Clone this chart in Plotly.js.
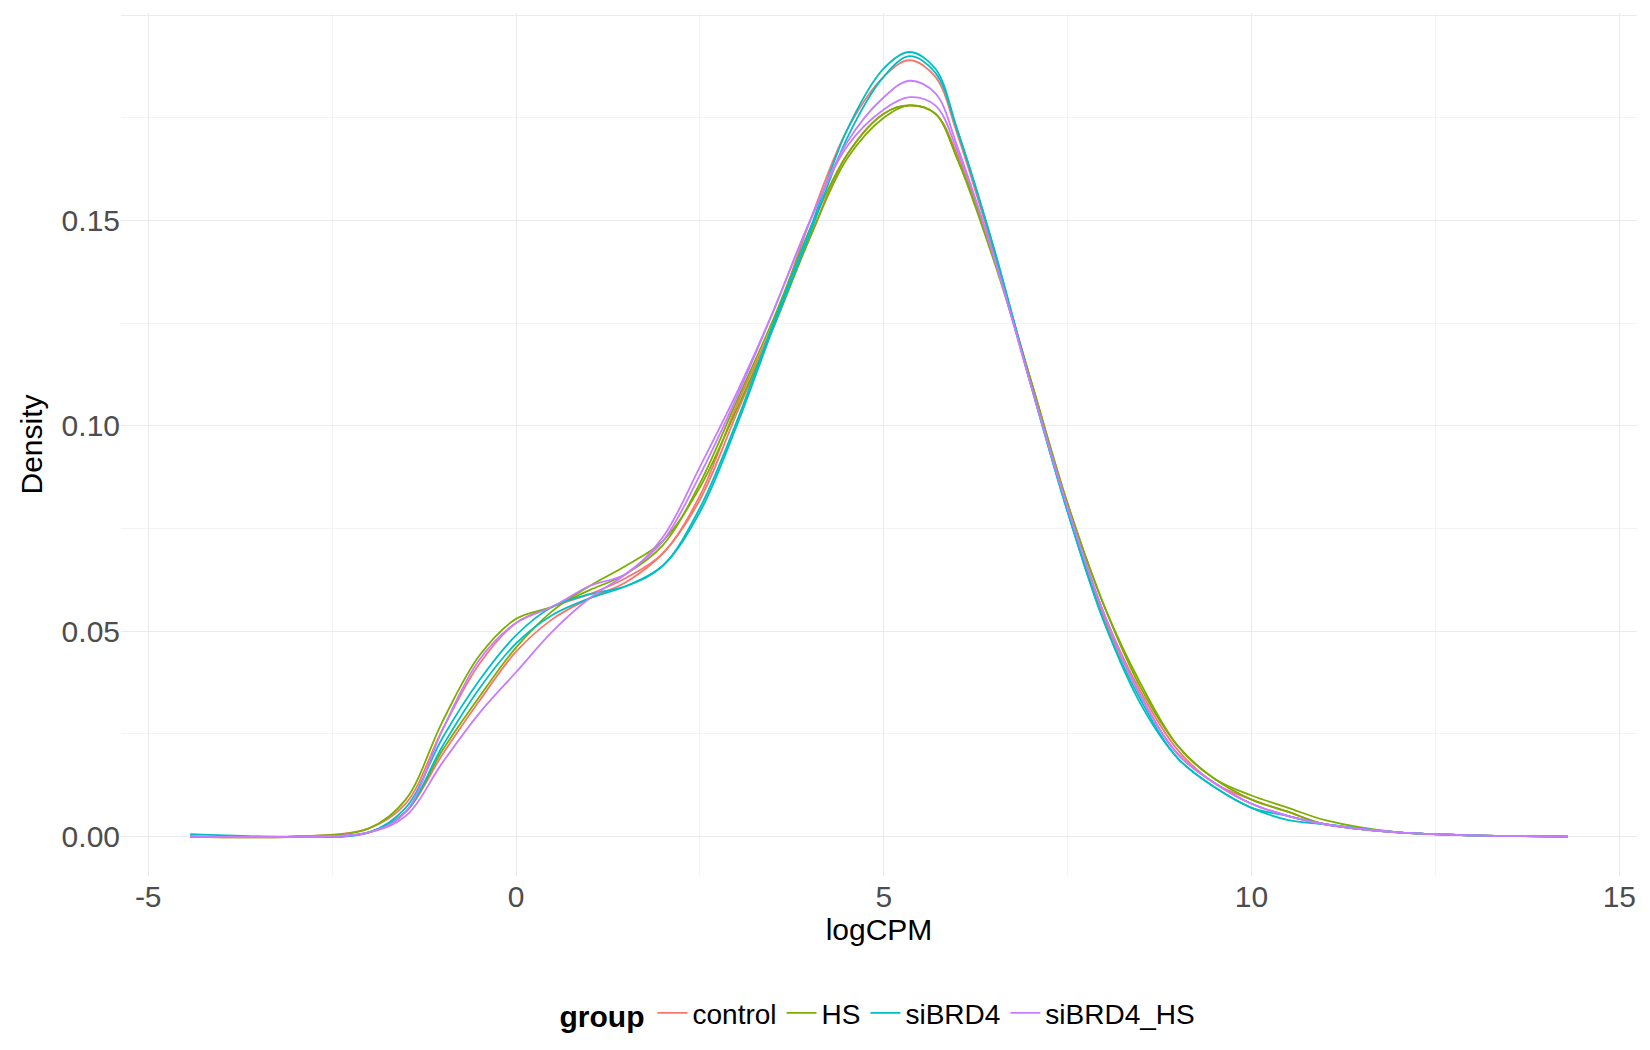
<!DOCTYPE html>
<html>
<head>
<meta charset="utf-8">
<script src="https://cdn.plot.ly/plotly-3.0.1.min.js"></script>
<style>body{margin:0;background:#fff}#chart{width:1650px;height:1050px}</style>
</head>
<body>
<div id="chart"></div>
<script>
// density curves, shared logCPM grid
const logCPM = [-4.43, -3, -2, -1.5, -1, -0.5, 0, 0.5, 1, 1.5, 2, 2.5, 3, 3.5, 4, 4.5, 5, 5.35, 5.7, 6, 6.5, 7, 7.5, 8, 8.5, 9, 9.5, 10, 10.5, 11, 12, 13, 14.3];

const control1 = [0.000, 0.000, 0.002, 0.008, 0.026, 0.042, 0.052, 0.056, 0.059, 0.063, 0.069, 0.083, 0.105, 0.125, 0.150, 0.172, 0.185, 0.189, 0.185, 0.171, 0.142, 0.110, 0.080, 0.053, 0.034, 0.020, 0.013, 0.008, 0.005, 0.003, 0.001, 0.0003, 0.000];
const control2 = [0.000, 0.000, 0.001, 0.006, 0.020, 0.033, 0.045, 0.053, 0.058, 0.062, 0.069, 0.082, 0.103, 0.124, 0.146, 0.166, 0.176, 0.178, 0.176, 0.166, 0.141, 0.111, 0.080, 0.054, 0.035, 0.021, 0.013, 0.009, 0.006, 0.003, 0.001, 0.0003, 0.000];
const HS1 = [0.000, 0.000, 0.002, 0.009, 0.028, 0.044, 0.053, 0.056, 0.060, 0.064, 0.071, 0.086, 0.106, 0.126, 0.148, 0.166, 0.176, 0.178, 0.176, 0.165, 0.140, 0.111, 0.081, 0.056, 0.037, 0.022, 0.014, 0.010, 0.007, 0.004, 0.001, 0.0003, 0.000];
const HS2 = [0.000, 0.000, 0.001, 0.006, 0.021, 0.034, 0.046, 0.055, 0.061, 0.066, 0.072, 0.085, 0.104, 0.124, 0.146, 0.165, 0.175, 0.178, 0.176, 0.165, 0.141, 0.111, 0.081, 0.056, 0.036, 0.022, 0.014, 0.009, 0.006, 0.003, 0.001, 0.0003, 0.000];
const siBRD4_1 = [0.0006, 0.000, 0.001, 0.007, 0.024, 0.038, 0.049, 0.056, 0.059, 0.061, 0.066, 0.080, 0.101, 0.125, 0.148, 0.172, 0.187, 0.191, 0.187, 0.172, 0.143, 0.110, 0.079, 0.052, 0.032, 0.019, 0.012, 0.007, 0.004, 0.003, 0.001, 0.0003, 0.000];
const siBRD4_2 = [0.000, 0.000, 0.001, 0.006, 0.022, 0.036, 0.047, 0.054, 0.058, 0.061, 0.066, 0.079, 0.100, 0.124, 0.147, 0.170, 0.185, 0.190, 0.186, 0.172, 0.143, 0.110, 0.079, 0.052, 0.033, 0.019, 0.012, 0.007, 0.005, 0.003, 0.001, 0.0003, 0.000];
const siBRD4_HS1 = [0.000, 0.000, 0.001, 0.006, 0.026, 0.043, 0.052, 0.056, 0.061, 0.064, 0.073, 0.090, 0.108, 0.128, 0.150, 0.169, 0.180, 0.184, 0.181, 0.168, 0.141, 0.110, 0.080, 0.054, 0.034, 0.020, 0.013, 0.008, 0.005, 0.003, 0.001, 0.0003, 0.000];
const siBRD4_HS2 = [0.000, 0.000, 0.001, 0.005, 0.018, 0.030, 0.040, 0.050, 0.058, 0.064, 0.072, 0.088, 0.107, 0.128, 0.150, 0.168, 0.177, 0.180, 0.178, 0.167, 0.141, 0.110, 0.080, 0.054, 0.034, 0.020, 0.013, 0.008, 0.005, 0.003, 0.001, 0.0003, 0.000];

const groups = ['control', 'HS', 'siBRD4', 'siBRD4_HS'];
const groupColors = ['#F8766D', '#7CAE00', '#00BFC4', '#C77CFF'];
const samples = [
    [control1, 0], [control2, 0],
    [HS1, 1], [HS2, 1],
    [siBRD4_1, 2], [siBRD4_2, 2],
    [siBRD4_HS1, 3], [siBRD4_HS2, 3]
];

const seen = {};
const traces = samples.map(([y, g]) => {
    const show = !seen[g];
    seen[g] = true;
    return {
        x: logCPM, y: y, type: 'scatter', mode: 'lines',
        line: {color: groupColors[g], width: 1.8, shape: 'spline', smoothing: 1},
        name: groups[g], legendgroup: groups[g], showlegend: show
    };
});

const font = {family: 'Liberation Sans, Arial, sans-serif', color: '#4d4d4d', size: 30};

const layout = {
    paper_bgcolor: '#fff', plot_bgcolor: '#fff',
    margin: {l: 121, r: 13, t: 13, b: 144},
    font: font,
    showlegend: true,
    xaxis: {
        range: [-5.37, 15.24], tickvals: [-5, 0, 5, 10, 15], ticktext: ['-5', '0', '5', '10', '15'], zeroline: false,
        gridcolor: '#ebebeb', gridwidth: 1.2, ticks: '', tickfont: font,
        minor: {dtick: 2.5, tick0: 0, showgrid: true, gridcolor: '#f3f3f3', gridwidth: 0.8},
        title: {text: 'logCPM', font: {family: font.family, size: 30, color: '#000'}, standoff: 6}
    },
    yaxis: {
        range: [-0.0096, 0.2005], tickvals: [0, 0.05, 0.1, 0.15, 0.2], tickformat: '.2f', zeroline: false,
        gridcolor: '#ebebeb', gridwidth: 1.2, ticks: '', tickfont: font,
        minor: {dtick: 0.025, tick0: 0, showgrid: true, gridcolor: '#f3f3f3', gridwidth: 0.8},
        title: {text: 'Density', font: {family: font.family, size: 30, color: '#000'}, standoff: 10}
    },
    legend: {
        orientation: 'h', x: 0.5, xanchor: 'center', y: -0.13, yanchor: 'top',
        font: {family: font.family, size: 28, color: '#000'},
        title: {text: '<b>group</b>', font: {family: font.family, size: 30, color: '#000'}}
    }
};

Plotly.newPlot('chart', traces, layout, {displayModeBar: false});
</script>
</body>
</html>
